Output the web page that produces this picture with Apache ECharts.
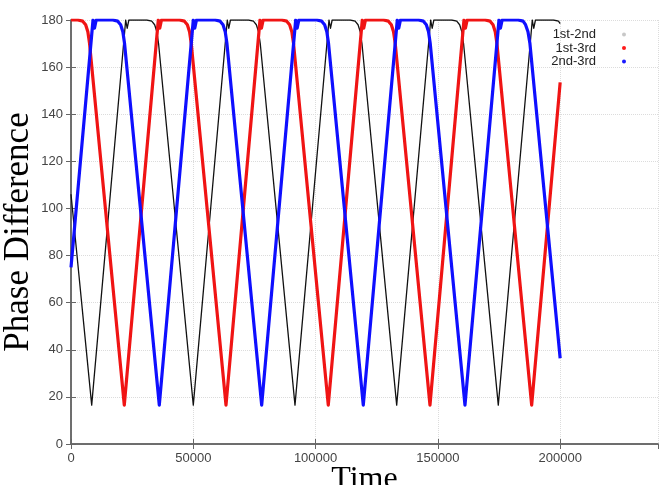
<!DOCTYPE html>
<html>
<head>
<meta charset="utf-8">
<script src="https://cdn.jsdelivr.net/npm/echarts@6/dist/echarts.min.js"></script>
<style>
  html, body { margin: 0; padding: 0; background: #fff; }
  #chart { width: 664px; height: 485px; }
</style>
</head>
<body>
<div id="chart"></div>
<script>
// axis ticks
const xTicks = { min: 0, max: 240000, step: 50000 };
const yTicks = { min: 0, max: 180, step: 20 };

const seriesNames = ['1st-2nd', '1st-3rd', '2nd-3rd'];

// [time, phase difference]
const phase12 = [
  [0, 106], [8460, 16.5],
  [22360, 180], [22960, 176.5], [23660, 180],
  [31000, 180], [33000, 179.5], [34200, 178], [35100, 175], [35800, 170], [50000, 16.5],
  [63900, 180], [64500, 176.5], [65200, 180],
  [72580, 180], [74580, 179.5], [75780, 178], [76680, 175], [77380, 170], [91580, 16.5],
  [105480, 180], [106080, 176.5], [106780, 180],
  [114160, 180], [116160, 179.5], [117360, 178], [118260, 175], [118960, 170], [133160, 16.5],
  [147060, 180], [147660, 176.5], [148360, 180],
  [155700, 180], [157700, 179.5], [158900, 178], [159800, 175], [160500, 170], [174700, 16.5],
  [188600, 180], [189200, 176.5], [189900, 180],
  [197300, 180], [199300, 179.5], [200000, 178.5]
];

const phase13 = [
  [0, 180], [2790, 180], [4790, 179.5], [5990, 178], [6890, 175], [7590, 170], [21790, 16.5],
  [35690, 180], [36290, 176.5], [36990, 180],
  [44370, 180], [46370, 179.5], [47570, 178], [48470, 175], [49170, 170], [63370, 16.5],
  [77270, 180], [77870, 176.5], [78570, 180],
  [86190, 180], [88190, 179.5], [89390, 178], [90290, 175], [90990, 170], [105190, 16.5],
  [119090, 180], [119690, 176.5], [120390, 180],
  [127770, 180], [129770, 179.5], [130970, 178], [131870, 175], [132570, 170], [146770, 16.5],
  [160670, 180], [161270, 176.5], [161970, 180],
  [169350, 180], [171350, 179.5], [172550, 178], [173450, 175], [174150, 170], [188350, 16.5],
  [200000, 153.5]
];

const phase23 = [
  [0, 75], [9000, 180], [9600, 176.5], [10300, 180],
  [17100, 180], [19100, 179.5], [20300, 178], [21200, 175], [21900, 170], [36100, 16.5],
  [50000, 180], [50600, 176.5], [51300, 180],
  [58960, 180], [60960, 179.5], [62160, 178], [63060, 175], [63760, 170], [77960, 16.5],
  [91860, 180], [92460, 176.5], [93160, 180],
  [100500, 180], [102500, 179.5], [103700, 178], [104600, 175], [105300, 170], [119500, 16.5],
  [133400, 180], [134000, 176.5], [134700, 180],
  [142080, 180], [144080, 179.5], [145280, 178], [146180, 175], [146880, 170], [161080, 16.5],
  [174980, 180], [175580, 176.5], [176280, 180],
  [182840, 180], [184840, 179.5], [185840, 178], [186840, 175], [187640, 170], [200000, 36.4]
];

const chart = echarts.init(document.getElementById('chart'), null, { renderer: 'canvas' });

const frameColor = '#666';
const labelFont = 'Liberation Sans';
const titleFont = 'Liberation Serif';

// mirrored axes (top / right) only carry the inward ticks
const mirrorX = {
  type: 'value', position: 'top', min: xTicks.min, max: xTicks.max, interval: xTicks.step,
  axisLine: { show: true, lineStyle: { color: frameColor, width: 1.5 } },
  axisTick: { show: true, inside: true, length: 5, lineStyle: { color: frameColor } },
  axisLabel: { show: false },
  splitLine: { show: false }
};
const mirrorY = {
  type: 'value', position: 'right', min: yTicks.min, max: yTicks.max, interval: yTicks.step,
  axisLine: { show: true, lineStyle: { color: frameColor, width: 1.5 } },
  axisTick: { show: true, inside: true, length: 5, lineStyle: { color: frameColor } },
  axisLabel: { show: false },
  splitLine: { show: false }
};

const option = {
  animation: false,
  backgroundColor: '#fff',
  grid: { left: 71, right: 6, top: 20, bottom: 41, containLabel: false, outerBoundsMode: 'none' },
  legend: {
    orient: 'vertical',
    right: 33,
    top: 23,
    align: 'right',
    icon: 'circle',
    itemWidth: 46,
    itemHeight: 4,
    itemGap: 0.5,
    selectedMode: false,
    textStyle: { fontFamily: labelFont, fontSize: 13, color: '#222' },
    data: [
      { name: seriesNames[0], itemStyle: { color: '#c8c8c8' } },
      { name: seriesNames[1], itemStyle: { color: '#ff1a1a' } },
      { name: seriesNames[2], itemStyle: { color: '#1a1aff' } }
    ]
  },
  xAxis: [
    {
      type: 'value',
      min: xTicks.min, max: xTicks.max, interval: xTicks.step,
      name: 'Time',
      nameLocation: 'middle',
      nameGap: 20,
      nameMoveOverlap: false,
      nameTextStyle: { fontFamily: titleFont, fontSize: 32, color: '#000' },
      axisLine: { show: true, lineStyle: { color: frameColor, width: 1.5 } },
      axisTick: { show: true, inside: true, length: 5, lineStyle: { color: frameColor } },
      axisLabel: {
        fontFamily: labelFont, fontSize: 13, color: '#444', margin: 8, showMaxLabel: false,
        formatter: (v) => String(v)
      },
      splitLine: { show: true, lineStyle: { color: '#dcdcdc', type: 'dotted', width: 1 } }
    },
    mirrorX
  ],
  yAxis: [
    {
      type: 'value',
      min: yTicks.min, max: yTicks.max, interval: yTicks.step,
      name: 'Phase Difference',
      nameLocation: 'middle',
      nameGap: 35,
      nameMoveOverlap: false,
      nameTextStyle: { fontFamily: titleFont, fontSize: 35, color: '#000' },
      axisLine: { show: true, lineStyle: { color: frameColor, width: 1.5 } },
      axisTick: { show: true, inside: true, length: 5, lineStyle: { color: frameColor } },
      axisLabel: { fontFamily: labelFont, fontSize: 13, color: '#444', margin: 8 },
      splitLine: { show: true, lineStyle: { color: '#dcdcdc', type: 'dotted', width: 1 } }
    },
    mirrorY
  ],
  series: [
    {
      name: seriesNames[0], type: 'line', data: phase12, showSymbol: false,
      lineStyle: { color: '#111', width: 1.3, join: 'round' }, itemStyle: { color: '#111' }
    },
    {
      name: seriesNames[1], type: 'line', data: phase13, showSymbol: false,
      lineStyle: { color: '#f01414', width: 3.2, join: 'round' }, itemStyle: { color: '#f01414' }
    },
    {
      name: seriesNames[2], type: 'line', data: phase23, showSymbol: false,
      lineStyle: { color: '#0f0fff', width: 3.2, join: 'round' }, itemStyle: { color: '#0f0fff' }
    }
  ]
};

chart.setOption(option);
window.addEventListener('resize', () => chart.resize());
</script>
</body>
</html>
